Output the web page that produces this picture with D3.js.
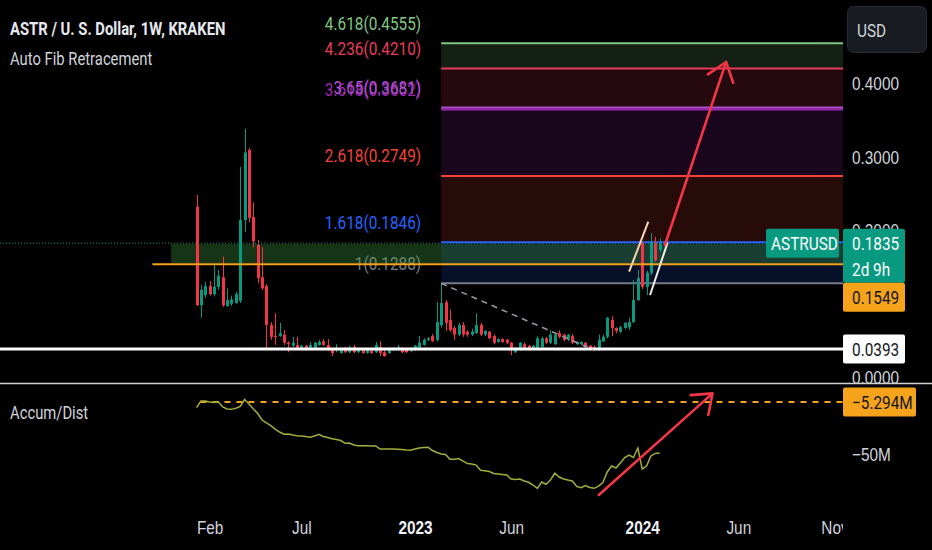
<!DOCTYPE html>
<html>
<head>
<meta charset="utf-8">
<style>
  body { margin: 0; background: #000; }
  svg { display: block; font-family: Roboto, "Liberation Sans", sans-serif; }
</style>
</head>
<body>
<svg width="932" height="550"></svg>
<script src="https://d3js.org/d3.v7.min.js"></script>
<script>
// weekly bars, first bar on Monday 2022-01-17
var firstWeek = new Date(2022, 0, 17);

var opens = [.233,.099,.113,.125,.114,.124,.137,.098,.101,.102,
  .105,.215,.310,.219,.181,.137,.125,.072,.057,.057,
  .059,.048,.044,.045,.041,.044,.041,.041,.045,.050,
  .045,.039,.038,.034,.041,.035,.042,.035,.038,.034,
  .037,.035,.042,.035,.034,.038,.038,.041,.038,.037,
  .038,.041,.045,.052,.057,.052,.072,.103,.079,.068,
  .059,.072,.063,.059,.061,.072,.059,.063,.057,.049,
  .053,.052,.048,.035,.038,.046,.044,.039,.041,.042,
  .054,.048,.046,.061,.059,.052,.057,.046,.046,.048,
  .044,.042,.038,.050,.056,.079,.068,.063,.068,.069,
  .076,.106,.184,.124,.143,.185,.174];
var highs = [.249,.127,.131,.132,.154,.147,.165,.122,.112,.117,
  .287,.339,.313,.239,.188,.178,.128,.076,.088,.075,
  .065,.050,.056,.056,.045,.045,.049,.049,.052,.053,
  .053,.041,.046,.039,.042,.044,.045,.039,.039,.039,
  .038,.049,.050,.038,.039,.042,.045,.042,.039,.042,
  .045,.057,.054,.056,.060,.103,.1288,.106,.093,.071,
  .075,.076,.065,.067,.088,.075,.065,.064,.059,.054,
  .054,.053,.049,.042,.049,.048,.045,.045,.057,.056,
  .056,.065,.061,.065,.060,.060,.060,.050,.050,.049,
  .045,.044,.059,.059,.083,.084,.069,.071,.076,.082,
  .133,.147,.186,.146,.197,.192,.190];
var lows = [.098,.082,.109,.112,.111,.120,.097,.097,.098,.101,
  .102,.199,.212,.178,.129,.120,.038,.052,.045,.056,
  .045,.035,.042,.038,.039,.037,.039,.039,.044,.044,
  .037,.030,.035,.033,.034,.034,.034,.034,.033,.033,
  .033,.034,.030,.029,.033,.037,.037,.034,.034,.035,
  .037,.039,.044,.050,.049,.050,.069,.064,.063,.052,
  .057,.056,.056,.057,.060,.057,.057,.053,.046,.048,
  .048,.046,.031,.034,.037,.039,.037,.038,.039,.041,
  .046,.046,.045,.054,.050,.050,.046,.045,.045,.041,
  .038,.037,.037,.049,.054,.057,.061,.061,.067,.065,
  .075,.105,.121,.113,.140,.158,.171];
var closes = [.099,.120,.125,.114,.124,.139,.099,.106,.107,.114,
  .215,.307,.218,.186,.136,.122,.072,.056,.056,.061,
  .048,.046,.048,.039,.044,.038,.045,.048,.049,.045,
  .038,.034,.039,.038,.035,.041,.035,.038,.034,.038,
  .034,.045,.034,.030,.038,.041,.042,.035,.035,.041,
  .044,.048,.052,.054,.050,.076,.102,.075,.065,.059,
  .072,.059,.059,.063,.072,.059,.064,.054,.048,.053,
  .049,.048,.038,.041,.048,.041,.038,.044,.054,.054,
  .048,.059,.059,.056,.052,.059,.048,.049,.049,.042,
  .039,.038,.052,.056,.082,.068,.064,.069,.075,.076,
  .106,.136,.124,.143,.185,.160,.1835];

// Accumulation/Distribution, millions
var accDist = [-10.1,-4.45,-4.45,-5.3,-5.7,-5.3,-9.5,-11.2,-11.5,-10.6,
  -9.1,-3.2,-7.0,-11.2,-15.0,-20.5,-23.0,-25.3,-28.1,-30.6,
  -32.5,-32.3,-33.1,-33.7,-34.0,-34.4,-35.1,-34.0,-32.5,-34.4,
  -35.2,-36.3,-36.9,-37.8,-40.1,-39.9,-41.6,-42.2,-42.2,-42.2,
  -42.4,-42.4,-45.0,-45.0,-45.0,-45.0,-45.1,-45.4,-45.8,-46.0,
  -45.0,-44.1,-43.7,-43.5,-46.2,-47.9,-49.2,-49.6,-53.6,-53.6,
  -53.0,-55.1,-57.2,-57.6,-58.5,-62.9,-63.2,-63.9,-65.6,-66.0,
  -66.4,-66.9,-70.2,-70.7,-70.2,-71.9,-73.0,-75.3,-78.1,-72.8,
  -74.7,-71.1,-65.4,-68.6,-70.2,-71.1,-71.9,-76.5,-77.6,-75.7,
  -77.4,-78.1,-76.2,-73.2,-64.3,-59.3,-61.0,-56.7,-52.2,-50.0,
  -52.1,-44.1,-61.8,-59.3,-50.8,-48.7,-48.3];

// auto fib levels (start bar 56)
var fibLevels = [1, 1.618, 2.618, 3.618, 3.65, 4.236, 4.618];
var fibPrices = [0.1288, 0.1846, 0.2749, 0.3652, 0.3681, 0.4210, 0.4555];

var priceTicks = [0, 0.1, 0.2, 0.3, 0.4];
var adTicks = [-50];
var tickDates = [new Date(2022,1,7), new Date(2022,6,4), new Date(2023,0,2), new Date(2023,5,5),
                 new Date(2024,0,1), new Date(2024,5,3), new Date(2024,10,4)];
var tickLabels = ["Feb", "Jul", "2023", "Jun", "2024", "Jun", "Nov"];

var lastPrice = 0.1835, hLine1 = 0.1549, hLine2 = 0.0393, adLevel = -5.294;

var svg = d3.select("svg");
var W = 932, H = 550, plotR = 843;
var SX = 0.83, FS = 18.5; // narrow look of the chart font

svg.append("rect").attr("width", W).attr("height", H).attr("fill", "#000");

var defs = svg.append("defs");
function clip(id, x0, y0, w, h) {
  defs.append("clipPath").attr("id", id).append("rect")
    .attr("x", x0).attr("y", y0).attr("width", w).attr("height", h);
}
clip("cPrice", 0, 0, plotR, 383);
clip("cAD", 0, 384, plotR, 126);
clip("cTime", 0, 505, plotR, 45);
clip("cAxis", plotR, 0, W - plotR, 383);

function label(parent, x0, y0, str, size, fill, anchor, weight, sx) {
  return parent.append("text")
    .attr("transform", "translate(" + x0 + "," + y0 + ") scale(" + (sx || SX) + ",1)")
    .attr("text-anchor", anchor || "start").attr("dominant-baseline", "central")
    .attr("font-size", size).attr("font-weight", weight || null)
    .attr("fill", fill).text(str);
}

function barDate(i) { return new Date(firstWeek.getTime() + i * 7 * 864e5); }

var x = d3.scaleTime().domain([new Date(2023,0,2), new Date(2024,0,1)]).range([415, 642.2]);
var y = d3.scaleLinear().domain([0, 0.4]).range([378, 84]);
var yAD = d3.scaleLinear().domain([-5.294, -50]).range([402, 455]);
var bx = function(i) { return x(barDate(i)); };

// ---- price pane ----
var pg = svg.append("g").attr("clip-path", "url(#cPrice)");

var fibColors = ["#787b86", "#2962ff", "#f44336", "#9c27b0", "#b04fd0", "#e63b5c", "#81c784"];
var fx0 = bx(56);
for (var k = 1; k < fibLevels.length; k++) {
  pg.append("rect")
    .attr("x", fx0).attr("width", plotR - fx0)
    .attr("y", y(fibPrices[k])).attr("height", y(fibPrices[k-1]) - y(fibPrices[k]))
    .attr("fill", fibColors[k]).attr("fill-opacity", 0.16);
}
fibLevels.forEach(function(l, k) {
  pg.append("line")
    .attr("x1", fx0).attr("x2", plotR)
    .attr("y1", y(fibPrices[k])).attr("y2", y(fibPrices[k]))
    .attr("stroke", fibColors[k]).attr("stroke-width", 2);
  label(pg, fx0 - 20, y(fibPrices[k]) - 20, l + "(" + fibPrices[k].toFixed(4) + ")", FS, fibColors[k], "end");
});

// user zone
pg.append("rect")
  .attr("x", bx(-5.8)).attr("width", plotR - bx(-5.8))
  .attr("y", y(0.1823)).attr("height", y(0.1560) - y(0.1823))
  .attr("fill", "#43a047").attr("fill-opacity", 0.33);

// candles
var bars = pg.selectAll("g.bar").data(opens).enter().append("g").attr("class", "bar");
bars.append("line")
  .attr("x1", function(d, i) { return Math.round(bx(i)) + 0.5; })
  .attr("x2", function(d, i) { return Math.round(bx(i)) + 0.5; })
  .attr("y1", function(d, i) { return y(highs[i]); })
  .attr("y2", function(d, i) { return y(lows[i]); })
  .attr("stroke", function(d, i) { return closes[i] >= d ? "#089981" : "#f23645"; })
  .attr("stroke-width", 1);
bars.append("rect")
  .attr("x", function(d, i) { return Math.round(bx(i)) - 1; })
  .attr("width", 3)
  .attr("y", function(d, i) { return y(Math.max(d, closes[i])); })
  .attr("height", function(d, i) { return Math.max(1, Math.abs(y(d) - y(closes[i]))); })
  .attr("fill", function(d, i) { return closes[i] >= d ? "#089981" : "#f23645"; });

// horizontal lines
pg.append("line").attr("x1", 0).attr("x2", plotR)
  .attr("y1", y(lastPrice)).attr("y2", y(lastPrice))
  .attr("stroke", "#089981").attr("stroke-dasharray", "1,2");
pg.append("line").attr("x1", bx(-10.1)).attr("x2", plotR)
  .attr("y1", y(hLine1)).attr("y2", y(hLine1))
  .attr("stroke", "#f5a31a").attr("stroke-width", 2);
pg.append("line").attr("x1", 0).attr("x2", plotR)
  .attr("y1", y(hLine2)).attr("y2", y(hLine2))
  .attr("stroke", "#ffffff").attr("stroke-width", 3);

// trend drawings
pg.append("line").attr("x1", bx(56)).attr("y1", y(0.1288)).attr("x2", bx(90.8)).attr("y2", y(0.0385))
  .attr("stroke", "#9598a1").attr("stroke-width", 1.6).attr("stroke-dasharray", "6,5");
pg.append("line").attr("x1", bx(99.0)).attr("y1", y(0.1446)).attr("x2", bx(103.4)).attr("y2", y(0.2127))
  .attr("stroke", "#f6d7ae").attr("stroke-width", 2);
pg.append("line").attr("x1", bx(103.8)).attr("y1", y(0.1129)).attr("x2", bx(107.8)).attr("y2", y(0.1841))
  .attr("stroke", "#f4f0e6").attr("stroke-width", 2);

function arrow(g, x1, y1, x2, y2) {
  var a = Math.atan2(y1 - y2, x1 - x2);
  return g.append("path")
    .attr("d", "M" + x1 + "," + y1 + "L" + x2 + "," + y2 +
      "M" + (x2 + 22 * Math.cos(a + 0.65)) + "," + (y2 + 22 * Math.sin(a + 0.65)) +
      "L" + x2 + "," + y2 +
      "L" + (x2 + 22 * Math.cos(a - 0.65)) + "," + (y2 + 22 * Math.sin(a - 0.65)))
    .attr("fill", "none").attr("stroke", "#f23645").attr("stroke-width", 2.6)
    .attr("stroke-linecap", "round").attr("stroke-linejoin", "round");
}
arrow(pg, bx(107.2), y(0.181), bx(121.2), y(0.430));

// ---- A/D pane ----
var ag = svg.append("g").attr("clip-path", "url(#cAD)");
ag.append("line").attr("x1", bx(0.9)).attr("x2", plotR)
  .attr("y1", yAD(adLevel)).attr("y2", yAD(adLevel))
  .attr("stroke", "#f5a31a").attr("stroke-width", 2).attr("stroke-dasharray", "6,6");
ag.append("path").datum(accDist)
  .attr("d", d3.line().x(function(d, i) { return bx(i); }).y(function(d) { return yAD(d); }))
  .attr("fill", "none").attr("stroke", "#a3ad3c").attr("stroke-width", 1.5);
arrow(ag, bx(92.06), yAD(-83.7), bx(118.1), yAD(2.0));

// separator
svg.append("line").attr("x1", 0).attr("x2", W).attr("y1", 383.5).attr("y2", 383.5)
  .attr("stroke", "#cfcfcf").attr("stroke-width", 1.5);

// ---- axes ----
var axG = svg.append("g").attr("clip-path", "url(#cAxis)");
var yAxisG = axG.append("g").attr("transform", "translate(" + plotR + ",0)")
  .call(d3.axisRight(y).tickValues(priceTicks).tickFormat(d3.format(".4f")).tickSize(0).tickPadding(0));
var adAxisG = svg.append("g").attr("transform", "translate(" + plotR + ",0)")
  .call(d3.axisRight(yAD).tickValues(adTicks).tickFormat(function(d) { return d3.format(".0f")(d) + "M"; })
    .tickSize(0).tickPadding(0));
[yAxisG, adAxisG].forEach(function(g) {
  g.select(".domain").remove();
  g.selectAll("text").attr("font-size", FS).attr("fill", "#d1d4dc").attr("font-family", null)
    .attr("x", null).attr("dy", null).attr("dominant-baseline", "central")
    .attr("transform", "translate(9,0) scale(" + SX + ",1)");
});

var tG = svg.append("g").attr("clip-path", "url(#cTime)");
var xAxisG = tG.append("g").attr("transform", "translate(0,528)")
  .call(d3.axisBottom(x).tickValues(tickDates).tickFormat(function(d, i) { return tickLabels[i]; })
    .tickSize(0).tickPadding(0));
xAxisG.select(".domain").remove();
xAxisG.selectAll("text").attr("font-size", FS).attr("font-family", null)
  .attr("y", null).attr("dy", null).attr("dominant-baseline", "central")
  .attr("transform", "scale(" + SX + ",1)")
  .attr("font-weight", function(d, i) { return /^\d{4}$/.test(tickLabels[i]) ? "bold" : null; })
  .attr("fill", function(d, i) { return /^\d{4}$/.test(tickLabels[i]) ? "#f0f3fa" : "#d1d4dc"; });

// ---- price tags ----
function tag(x0, yTop, w, h, bg, fg, lines, pad) {
  var g = svg.append("g");
  g.append("rect").attr("x", x0).attr("y", yTop).attr("width", w).attr("height", h)
    .attr("rx", 2).attr("fill", bg);
  lines.forEach(function(t, j) { label(g, x0 + (pad || 9), yTop + 14.5 + j * 26, t, FS, fg); });
}
var tealTop = y(lastPrice) - 14.5;
tag(plotR, tealTop, 62, 54, "#089981", "#ffffff", [d3.format(".4f")(lastPrice), "2d 9h"]);
tag(766, tealTop, 73, 29, "#089981", "#ffffff", ["ASTRUSD"], 5);
tag(plotR, Math.max(y(hLine1) - 14.5, tealTop + 54), 62, 29, "#f5a31a", "#131722", [d3.format(".4f")(hLine1)]);
tag(plotR, y(hLine2) - 14.5, 62, 29, "#ffffff", "#131722", [d3.format(".4f")(hLine2)]);
tag(plotR, yAD(adLevel) - 14.5, 73, 29, "#f5a31a", "#131722", [d3.format(".3f")(adLevel) + "M"]);

// USD button
svg.append("rect").attr("x", 847.5).attr("y", 6.5).attr("width", 79).attr("height", 46).attr("rx", 6)
  .attr("fill", "#181b22").attr("stroke", "#262a33");
label(svg, 857, 30, "USD", FS, "#d1d4dc");

// legends
label(svg, 10, 28, "ASTR / U. S. Dollar, 1W, KRAKEN", 18.5, "#e6e8ee", "start", "bold", 0.8);
label(svg, 10, 58, "Auto Fib Retracement", FS, "#d1d4dc", "start", null, 0.8);
label(svg, 10, 412, "Accum/Dist", FS, "#d1d4dc", "start", null, 0.8);
</script>
</body>
</html>
